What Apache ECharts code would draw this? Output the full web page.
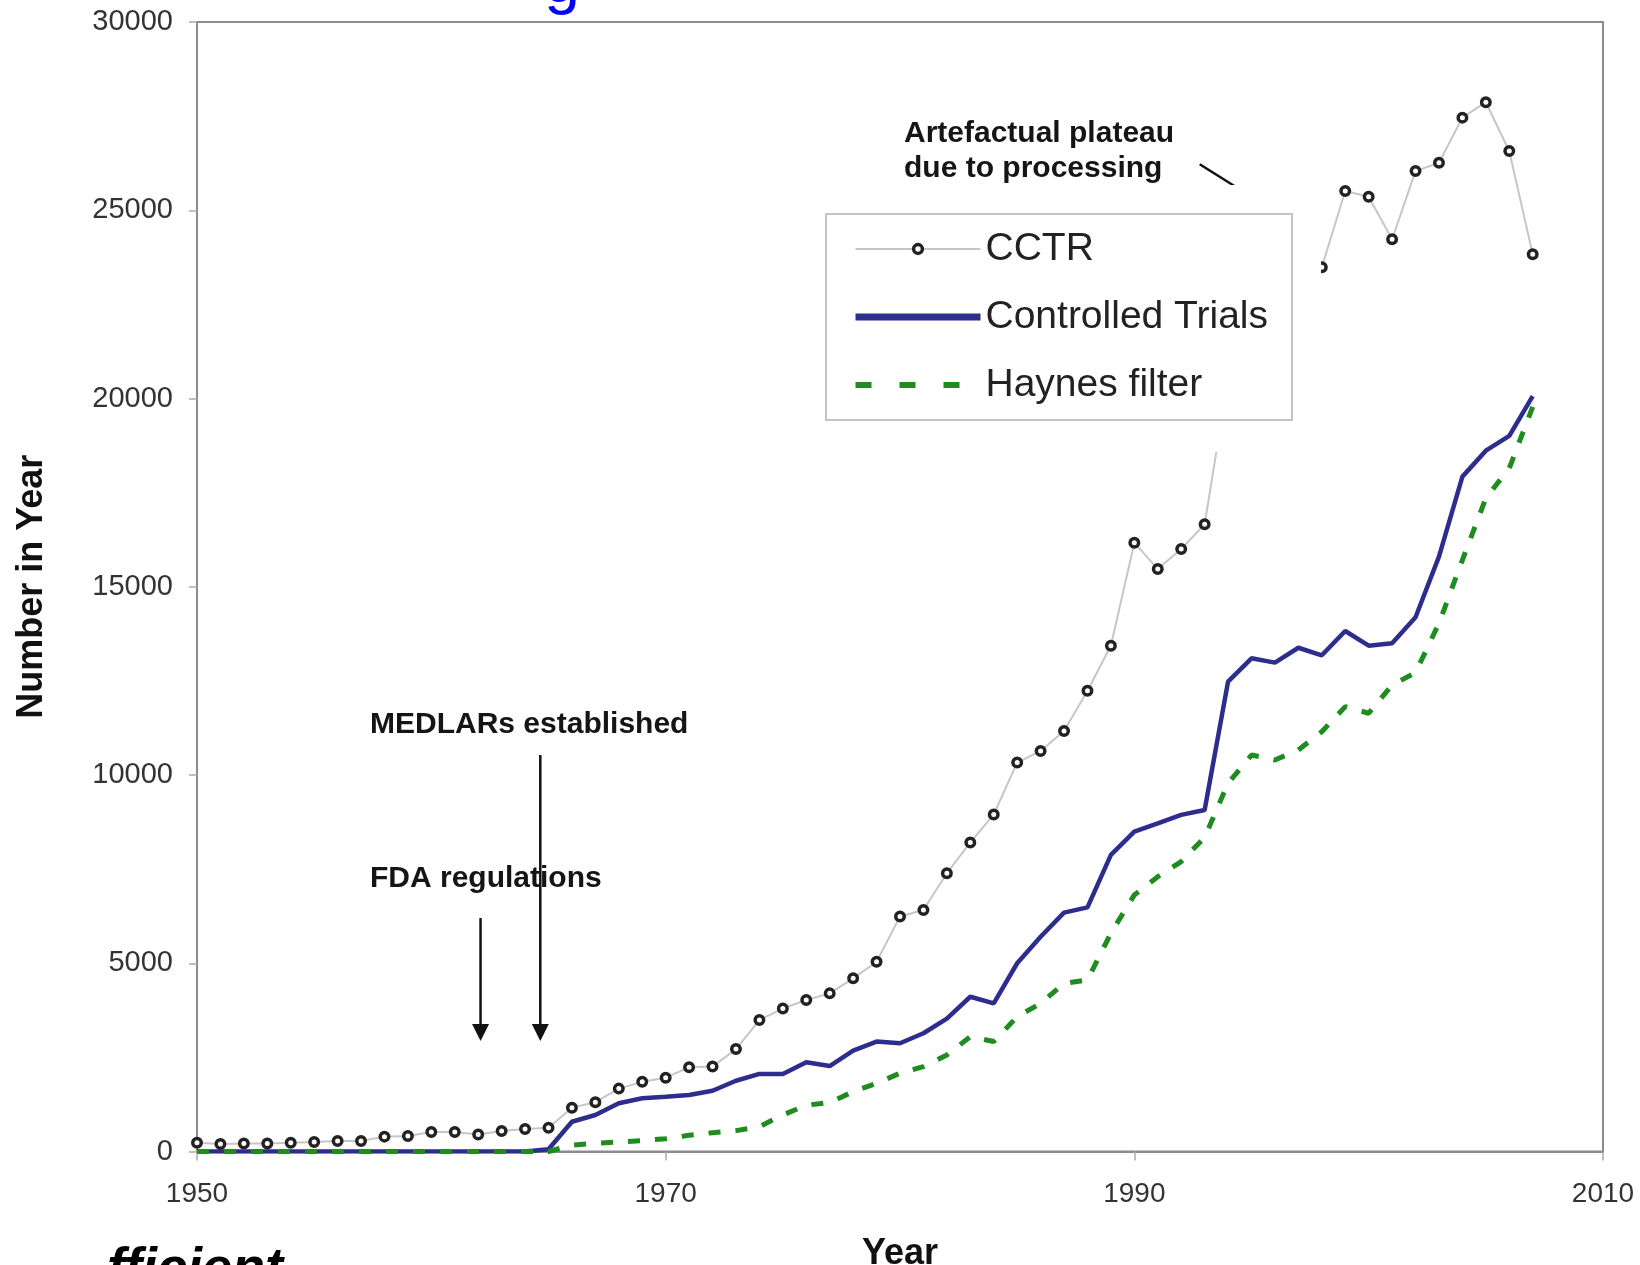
<!DOCTYPE html>
<html><head><meta charset="utf-8">
<script src="https://cdn.jsdelivr.net/npm/echarts@6/dist/echarts.min.js"></script>
<style>html,body{margin:0;padding:0;background:#fff}#c{width:1640px;height:1265px}</style>
</head><body><div id="c"></div>
<script>
const years = [1950,1951,1952,1953,1954,1955,1956,1957,1958,1959,
  1960,1961,1962,1963,1964,1965,1966,1967,1968,1969,
  1970,1971,1972,1973,1974,1975,1976,1977,1978,1979,
  1980,1981,1982,1983,1984,1985,1986,1987,1988,1989,
  1990,1991,1992,1993,1994,1995,1996,1997,1998,1999,
  2000,2001,2002,2003,2004,2005,2006,2007];
const cctr = [230,200,215,215,235,250,280,280,395,410,
  520,520,450,545,600,630,1165,1310,1670,1850,
  1960,2235,2255,2720,3490,3800,4025,4200,4600,5040,
  6240,6415,7390,8210,8950,10330,10640,11170,12240,13435,
  16170,15470,16000,16660,20500,23000,23600,23300,23485,25510,
  25360,24230,26040,26260,27460,27870,26575,23830];
const controlledTrials = [0,0,0,0,0,0,0,0,0,0,
  0,0,0,0,0,60,790,970,1280,1415,
  1455,1500,1615,1880,2060,2060,2370,2270,2680,2920,
  2875,3140,3530,4110,3935,5000,5705,6345,6485,7880,
  8495,8715,8940,9070,12480,13100,12985,13380,13180,13825,
  13435,13500,14190,15800,17925,18615,19005,20065];
const haynesFilter = [0,0,0,0,0,0,0,0,0,0,
  0,0,0,0,0,0,170,220,255,290,
  340,430,500,555,660,970,1230,1300,1590,1810,
  2080,2255,2565,3050,2920,3580,3935,4465,4555,5800,
  6815,7300,7700,8345,9780,10530,10400,10665,11150,11815,
  11640,12390,12720,14030,15710,17350,18150,19780];
const xTicks = [1950,1970,1990,2010];
const yTicks = [0,5000,10000,15000,20000,25000,30000];
const seriesNames = ['CCTR','Controlled Trials','Haynes filter'];

const FONT = "'Liberation Sans', Arial, sans-serif";
const chart = echarts.init(document.getElementById('c'), null, {renderer:'canvas'});
const pairs = arr => years.map((y,i)=>[y, arr[i]]);

chart.setOption({
  animation:false,
  backgroundColor:'#fff',
  grid:{left:197,right:37,top:22,bottom:113.5,containLabel:false,outerBoundsMode:'none',
    show:true,borderColor:'#8c8c8c',borderWidth:2,backgroundColor:'#fff'},
  xAxis:{type:'value',min:xTicks[0],max:xTicks[xTicks.length-1],interval:xTicks[1]-xTicks[0],
    name:'Year',nameLocation:'middle',nameGap:85,
    nameTextStyle:{fontFamily:FONT,fontWeight:'bold',fontSize:36,color:'#111'},
    axisLine:{lineStyle:{color:'#8c8c8c',width:2}},
    axisTick:{show:true,length:9,lineStyle:{color:'#aaa',width:1.5}},
    axisLabel:{fontFamily:FONT,fontSize:28,color:'#333',margin:29,formatter:v=>String(v)},
    splitLine:{show:false}},
  yAxis:{type:'value',min:yTicks[0],max:yTicks[yTicks.length-1],interval:yTicks[1]-yTicks[0],
    name:'Number in Year',nameLocation:'middle',nameGap:147,
    nameTextStyle:{fontFamily:FONT,fontWeight:'bold',fontSize:36,color:'#111'},
    axisLine:{show:true,lineStyle:{color:'#8c8c8c',width:2}},
    axisTick:{show:true,length:8,lineStyle:{color:'#aaa',width:1.5}},
    axisLabel:{fontFamily:FONT,fontSize:29,color:'#333',margin:24,formatter:v=>String(v)},
    splitLine:{show:false}},
  legend:{orient:'vertical',left:826,top:214,
    padding:[12,24,12,26],itemGap:22,itemWidth:125,itemHeight:11,
    backgroundColor:'#fff',borderColor:'#c4c4c4',borderWidth:2,borderRadius:0,
    textStyle:{fontFamily:FONT,fontSize:39,color:'#222',lineHeight:46},
    data:[
      {name:seriesNames[0],itemStyle:{color:'#fff',borderColor:'#222',borderWidth:3.5}},
      {name:seriesNames[1],lineStyle:{width:7},itemStyle:{opacity:0}},
      {name:seriesNames[2],lineStyle:{width:6,type:[16,28]},itemStyle:{opacity:0}}
    ]},
  series:[
    {name:seriesNames[0],type:'line',data:pairs(cctr),symbol:'circle',symbolSize:8.5,showSymbol:true,
      lineStyle:{color:'#c6c6c6',width:2},itemStyle:{color:'#fff',borderColor:'#222',borderWidth:3.5},z:3},
    {name:seriesNames[1],type:'line',data:pairs(controlledTrials),symbol:'none',
      lineStyle:{color:'#2d2d8e',width:4.5},itemStyle:{color:'#2d2d8e'},z:2},
    {name:seriesNames[2],type:'line',data:pairs(haynesFilter),symbol:'none',
      lineStyle:{color:'#1e8c1e',width:5,type:[12,15]},itemStyle:{color:'#1e8c1e'},z:2}
  ]
});

// annotations anchored in data space
const cp = p => chart.convertToPixel({gridIndex:0}, p);
function arrow(x, yTop, yTip){
  const a = cp([x, yTop]), b = cp([x, yTip]);
  return [
    {type:'line',shape:{x1:a[0],y1:a[1],x2:b[0],y2:b[1]-14},style:{stroke:'#111',lineWidth:2.5},z:10},
    {type:'polygon',shape:{points:[[b[0]-8.5,b[1]-17],[b[0]+8.5,b[1]-17],[b[0],b[1]]]},style:{fill:'#111'},z:10}
  ];
}
const p1 = cp([1992.79, 26223]), p2 = cp([1994.9, 25400]);
const txt = (x,y,t,extra,z) => ({type:'text',x:x,y:y,z:(z==null?10:z),
  style:Object.assign({text:t,fontFamily:FONT,fontWeight:'bold',fontSize:30,fill:'#151515',verticalAlign:'middle',align:'left'}, extra||{})});
chart.setOption({graphic:[
  ...arrow(1962.1, 6200, 2935),
  ...arrow(1964.65, 10531, 2935),
  {type:'line',shape:{x1:p1[0],y1:p1[1],x2:p2[0],y2:p2[1]},style:{stroke:'#111',lineWidth:2.5},z:3.2},
  txt(370,725,'MEDLARs established'),
  txt(370,879,'FDA regulations'),
  txt(904,134,'Artefactual plateau',null,3.2),
  txt(904,169,'due to processing',null,3.2),
  // white patch of the pasted annotation box that hides part of the plateau
  {type:'rect',shape:{x:880,y:185,width:441,height:267},style:{fill:'#fff'},z:3.5},
  txt(562,-16,'g',{fontWeight:'normal',fontSize:64,fill:'#0000ff',align:'center'}),
  txt(107,1270,'fficient',{fontStyle:'italic',fontSize:54,fill:'#000'})
]});
</script>
</body></html>
